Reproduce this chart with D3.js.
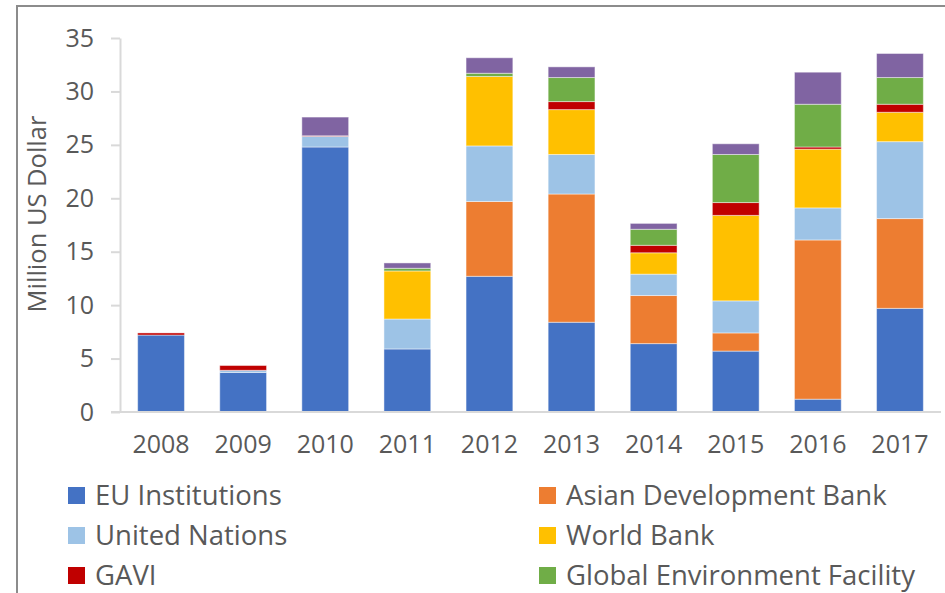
<!DOCTYPE html>
<html>
<head>
<meta charset="utf-8">
<script src="https://cdn.jsdelivr.net/npm/d3@7"></script>
<style>
  body { margin: 0; background: #fff; }
  svg text { font-family: "Open Sans", sans-serif; fill: #595959; }
</style>
</head>
<body>
<div id="chart"></div>
<script>
// ─── data (million US dollar) ───────────────────────────────────
const years = ["2008", "2009", "2010", "2011", "2012", "2013", "2014", "2015", "2016", "2017"];
const seriesNames = ["EU Institutions", "Asian Development Bank", "United Nations", "World Bank",
                     "GAVI", "Global Environment Facility", "Other"];
const euInstitutions = [7.2, 3.7, 24.8, 5.9, 12.7, 8.4, 6.4, 5.7, 1.2, 9.7];
const asianDevBank   = [0, 0, 0, 0, 7.0, 12.0, 4.5, 1.7, 14.9, 8.4];
const unitedNations  = [0, 0.2, 1.0, 2.8, 5.2, 3.7, 2.0, 3.0, 3.0, 7.2];
const worldBank      = [0, 0, 0, 4.5, 6.5, 4.2, 2.0, 8.0, 5.5, 2.75];
const gavi           = [0.2, 0.45, 0.05, 0, 0, 0.75, 0.7, 1.2, 0.2, 0.75];
const gef            = [0, 0, 0, 0.25, 0.3, 2.25, 1.5, 4.5, 4.0, 2.5];
const other          = [0, 0, 1.75, 0.5, 1.45, 1.0, 0.55, 1.0, 3.0, 2.25];
const yTicks = [0, 5, 10, 15, 20, 25, 30, 35];

// ─── colour palette ─────────────────────────────────────────────
const colors = ["#4472c4", "#ed7d31", "#9dc3e6", "#ffc000", "#c00000", "#70ad47", "#8064a2"];

const width = 945, height = 593;
const seriesValues = [euInstitutions, asianDevBank, unitedNations, worldBank, gavi, gef, other];

// one row per year, keyed by series name — what d3.stack() wants
const table = years.map((y, i) => {
    const row = { year: y };
    seriesNames.forEach((s, k) => row[s] = seriesValues[k][i]);
    return row;
});

const stacked = d3.stack().keys(seriesNames)(table);

const svg = d3.select("#chart")
    .append("svg")
    .attr("width", width)
    .attr("height", height);

// chart frame (cropped at right and bottom in the original)
svg.append("path")
    .attr("d", `M17,${height} V6 H${width}`)
    .attr("fill", "none")
    .attr("stroke", "#8c8c8c")
    .attr("stroke-width", 2);

const x = d3.scaleBand()
    .domain(years)
    .range([120, 941])
    .paddingInner(0.43)
    .paddingOuter(0.215);

const y = d3.scaleLinear()
    .domain([0, 35])
    .range([412, 38]);

// ── bars ─────────────────────────────────────────────────────────
svg.append("g")
    .selectAll("g")
    .data(stacked)
    .join("g")
    .attr("fill", (d, i) => colors[i])
    .selectAll("rect")
    .data(d => d.filter(p => p[1] - p[0] > 0))
    .join("rect")
    .attr("x", d => x(d.data.year))
    .attr("width", x.bandwidth())
    .attr("y", d => y(d[1]))
    .attr("height", d => y(d[0]) - y(d[1]))
    .attr("stroke", "#ffffff")
    .attr("stroke-opacity", 0.45)
    .attr("stroke-width", 1);

// ── y axis ───────────────────────────────────────────────────────
const yAxis = svg.append("g")
    .attr("transform", "translate(120,0)")
    .call(d3.axisLeft(y).tickValues(yTicks).tickSize(9).tickPadding(17).tickSizeOuter(0));
yAxis.select(".domain").attr("stroke", "#d9d9d9").attr("stroke-width", 2);
yAxis.selectAll(".tick line").attr("stroke", "#d9d9d9").attr("stroke-width", 2);
yAxis.selectAll(".tick text")
    .style("font-size", "25px")
    .style("font-family", "'Open Sans', sans-serif")
    .attr("fill", "#595959");

// ── x axis ───────────────────────────────────────────────────────
const xAxis = svg.append("g")
    .attr("transform", `translate(0,${y(0)})`)
    .call(d3.axisBottom(x).tickSize(0).tickPadding(23));
xAxis.select(".domain")
    .attr("d", `M111,0H941`)
    .attr("stroke", "#d9d9d9")
    .attr("stroke-width", 2);
xAxis.selectAll(".tick text")
    .style("font-size", "25px")
    .style("font-family", "'Open Sans', sans-serif")
    .attr("fill", "#595959");

// axis title
svg.append("text")
    .attr("transform", `translate(46,${(y(0) + y(35)) / 2 - 11}) rotate(-90)`)
    .attr("text-anchor", "middle")
    .style("font-size", "25.5px")
    .text("Million US Dollar");

// ── legend (the last entry falls below the cropped picture) ──────
const legendItems = seriesNames.slice(0, 6);
const legend = svg.append("g")
    .selectAll("g")
    .data(legendItems)
    .join("g")
    .attr("transform", (d, i) => `translate(${i % 2 ? 539 : 68}, ${487 + Math.floor(i / 2) * 40})`);

legend.append("rect")
    .attr("width", 17)
    .attr("height", 17)
    .attr("fill", (d, i) => colors[i]);

legend.append("text")
    .attr("x", 27)
    .attr("y", 18)
    .style("font-size", "27.5px")
    .text(d => d);
</script>
</body>
</html>
